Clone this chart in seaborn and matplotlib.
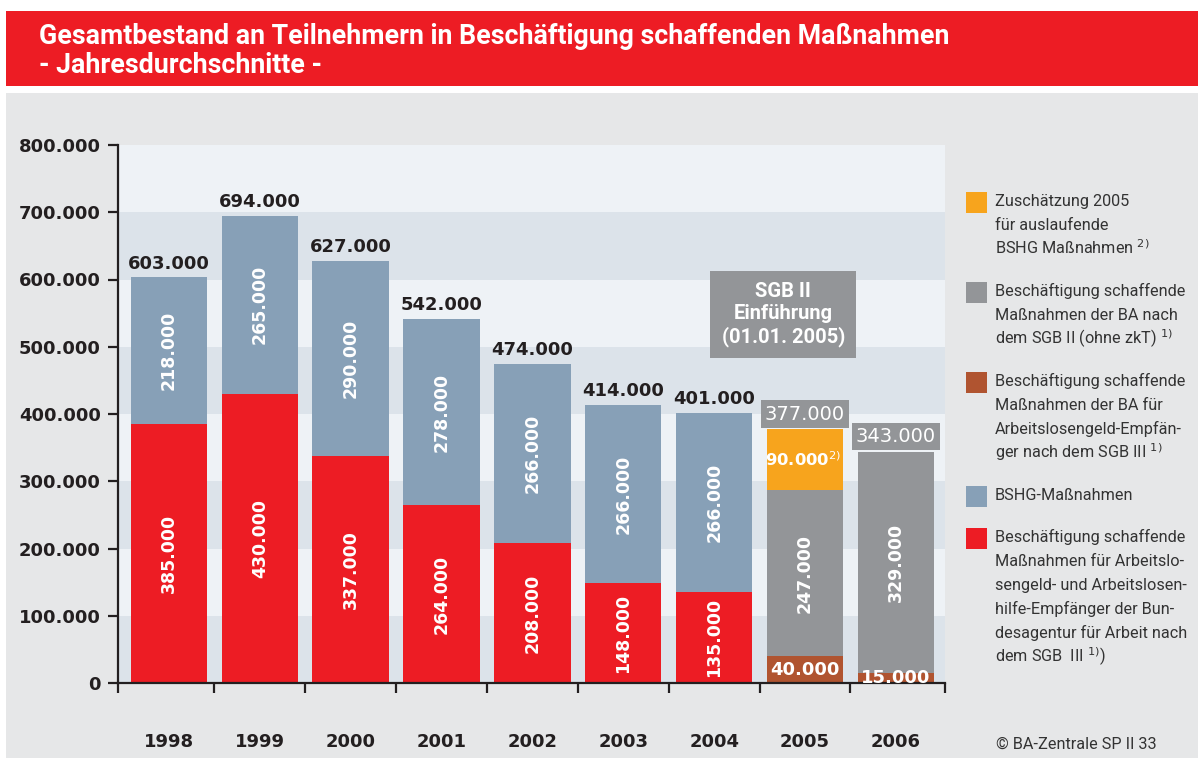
import matplotlib
matplotlib.use("Agg")
import matplotlib.pyplot as plt
from matplotlib import font_manager as fm
from matplotlib.patches import Rectangle
import numpy as np
import pandas as pd
import seaborn as sns

# ---------------- data ----------------
years = ["1998", "1999", "2000", "2001", "2002", "2003", "2004", "2005", "2006"]
abm_sgb3 = [385000, 430000, 337000, 264000, 208000, 148000, 135000, 0, 0]      # red
ba_sgb3 = [0, 0, 0, 0, 0, 0, 0, 40000, 15000]                                   # brown
bshg = [218000, 265000, 290000, 278000, 266000, 266000, 266000, 0, 0]           # blue
ba_sgb2 = [0, 0, 0, 0, 0, 0, 0, 247000, 329000]                                 # grey
est_2005 = [0, 0, 0, 0, 0, 0, 0, 90000, 0]                                      # orange
totals = [603000, 694000, 627000, 542000, 474000, 414000, 401000, 377000, 343000]
yticks = [0, 100000, 200000, 300000, 400000, 500000, 600000, 700000, 800000]

title_lines = ["Gesamtbestand an Teilnehmern in Beschäftigung schaffenden Maßnahmen",
               "- Jahresdurchschnitte -"]
sgb_note = "SGB II\nEinführung\n(01.01. 2005)"
legend_items = [
    ("est", ["Zuschätzung 2005", "für auslaufende", r"BSHG Maßnahmen $^{2)}$"]),
    ("sgb2", ["Beschäftigung schaffende", "Maßnahmen der BA nach", r"dem SGB II (ohne zkT) $^{1)}$"]),
    ("sgb3ba", ["Beschäftigung schaffende", "Maßnahmen der BA für", "Arbeitslosengeld-Empfän-",
                r"ger nach dem SGB III $^{1)}$"]),
    ("bshg", ["BSHG-Maßnahmen"]),
    ("abm", ["Beschäftigung schaffende", "Maßnahmen für Arbeitslo-", "sengeld- und Arbeitslosen-",
             "hilfe-Empfänger der Bun-", "desagentur für Arbeit nach", r"dem SGB  III $^{1)}$)"]),
]
copyright_text = "© BA-Zentrale SP II 33"

# ---------------- style ----------------
RED = "#ED1C24"
BLUE = "#87A0B7"
GREY = "#939598"
BROWN = "#B05430"
ORANGE = "#F7A41D"
PANEL = "#E6E7E8"
BAND_LIGHT = "#EEF2F6"
BAND_DARK = "#DCE3EA"
DARK = "#231F20"
colors = {"abm": RED, "sgb3ba": BROWN, "bshg": BLUE, "sgb2": GREY, "est": ORANGE}

sns.set_theme(style="white")
avail = {f.name for f in fm.fontManager.ttflist}
narrow = "Liberation Sans Narrow" if "Liberation Sans Narrow" in avail else "Roboto"
plt.rcParams["font.family"] = ["DejaVu Sans"]

W, H = 1198, 758
fig = plt.figure(figsize=(W / 100, H / 100), dpi=100)
fig.patch.set_facecolor("white")


def fx(px):
    return px / W


def fy(py):
    return 1 - py / H


# background panels
fig.patches.append(Rectangle((fx(6), fy(86)), fx(W - 6), 75 / H, transform=fig.transFigure,
                             facecolor=RED, edgecolor="none", zorder=-2))
fig.patches.append(Rectangle((fx(6), 0), fx(W - 6), (H - 93) / H, transform=fig.transFigure,
                             facecolor=PANEL, edgecolor="none", zorder=-2))

fig.text(fx(39), fy(44), title_lines[0], color="white", fontsize=19.3, fontweight="bold",
         family="Roboto", va="baseline", ha="left")
fig.text(fx(39), fy(73), title_lines[1], color="white", fontsize=19.3, fontweight="bold",
         family="Roboto", va="baseline", ha="left")

ax = fig.add_axes([fx(118), 1 - 683 / H, fx(945 - 118), (683 - 145) / H])
ax.set_facecolor("none")

# horizontal bands
for i in range(len(yticks) - 1):
    ax.axhspan(yticks[i], yticks[i + 1], color=BAND_DARK if i % 2 == 0 else BAND_LIGHT,
               zorder=0, lw=0)

df = pd.DataFrame({"year": years, "abm": abm_sgb3, "sgb3ba": ba_sgb3, "bshg": bshg,
                   "sgb2": ba_sgb2, "est": est_2005})
order = ["abm", "sgb3ba", "bshg", "sgb2", "est"]
bottom = np.zeros(len(years))
bottoms = {}
for key in order:
    bottoms[key] = bottom.copy()
    sns.barplot(data=df, x="year", y=key, bottom=bottom.copy(), color=colors[key],
                saturation=1, width=0.84, errorbar=None, linewidth=0, ax=ax, zorder=2)
    bottom = bottom + df[key].to_numpy()


def fmt(v):
    return f"{int(v):,}".replace(",", ".")


# labels inside segments
for key in order:
    vals = df[key].to_numpy()
    for i, v in enumerate(vals):
        if v <= 0:
            continue
        yc = bottoms[key][i] + v / 2
        if key in ("abm", "bshg", "sgb2"):
            ax.text(i, yc, fmt(v), rotation=90, ha="center", va="center", color="white",
                    fontsize=12.5, fontweight="bold", zorder=5)
        elif key == "est":
            ax.text(i - 0.02, yc, fmt(v) + r"$^{2)}$", ha="center", va="center", color="white",
                    fontsize=11.8, fontweight="bold", zorder=5)
        else:
            ax.text(i, yc, fmt(v), ha="center", va="center", color="white",
                    fontsize=13, fontweight="bold", zorder=5, clip_on=True)

# totals
for i, t in enumerate(totals):
    top = bottom[i]
    if years[i] in ("2005", "2006"):
        ax.annotate(fmt(t), (i, top), xytext=(0, 11), textcoords="offset points",
                    ha="center", va="center", color="white", fontsize=14,
                    bbox=dict(boxstyle="square,pad=0.22", fc=GREY, ec="none"), zorder=6)
    else:
        ax.annotate(fmt(t), (i, top), xytext=(0, 10), textcoords="offset points",
                    ha="center", va="center", color=DARK, fontsize=13, fontweight="bold",
                    zorder=6)

# SGB II box
ax.text(6.76, 548000, sgb_note, ha="center", va="center", color="white", fontsize=14.5,
        fontweight="bold", family="Roboto", linespacing=1.22, zorder=6,
        bbox=dict(boxstyle="square,pad=0.55", fc=GREY, ec="none"))

# axes formatting
ax.set_xlim(-0.56, 8.54)
ax.set_ylim(0, 800000)
ax.set_yticks(yticks)
ax.set_yticklabels([fmt(v) for v in yticks], fontsize=13, fontweight="bold", color=DARK)
ax.set_xticks(range(len(years)))
ax.set_xticklabels(years, fontsize=13, fontweight="bold", color=DARK)
ax.set_xticks([-0.56] + [i + 0.5 for i in range(len(years) - 1)] + [8.54], minor=True)
ax.tick_params(axis="x", which="major", length=0, pad=36)
ax.tick_params(axis="x", which="minor", length=7, width=1.6, color=DARK, direction="out",
               bottom=True)
ax.tick_params(axis="y", which="major", length=7, width=1.6, color=DARK, direction="out",
               pad=5.5, left=True)
ax.set_xlabel("")
ax.set_ylabel("")
for s in ("top", "right"):
    ax.spines[s].set_visible(False)
for s in ("left", "bottom"):
    ax.spines[s].set_color(DARK)
    ax.spines[s].set_linewidth(1.6)
    ax.spines[s].set_zorder(4)

# legend
ytop = 192
for key, lines in legend_items:
    fig.patches.append(Rectangle((fx(966), fy(ytop + 21)), fx(21), 21 / H,
                                 transform=fig.transFigure, facecolor=colors[key],
                                 edgecolor="none", zorder=3))
    for j, line in enumerate(lines):
        fig.text(fx(995), fy(ytop + 14 + 24 * j), line, fontsize=11.7, family=narrow,
                 color="#333333", va="baseline", ha="left")
    ytop += 24 * len(lines) + 18

fig.text(fx(996), fy(749), copyright_text, fontsize=11.7, family=narrow, color="#333333",
         va="baseline", ha="left")

fig.savefig("out.png", dpi=100)
